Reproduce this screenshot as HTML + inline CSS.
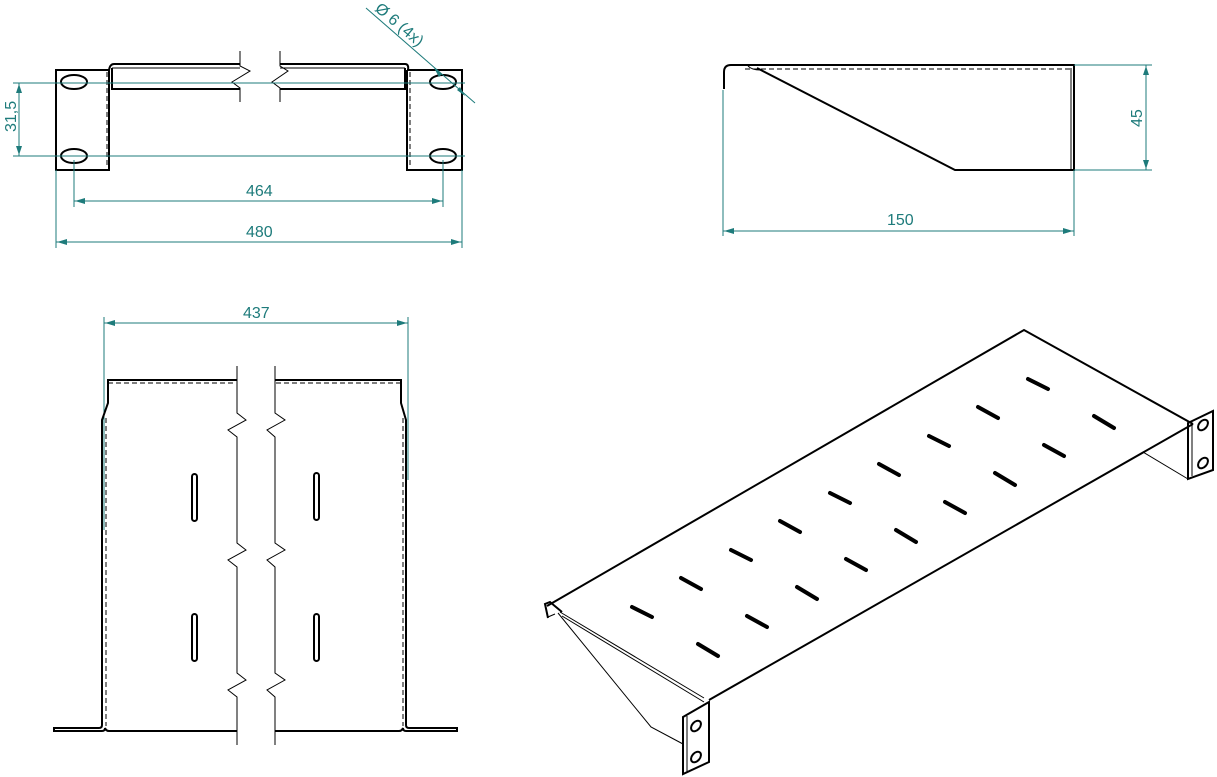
<!DOCTYPE html>
<html><head><meta charset="utf-8"><style>
html,body{margin:0;padding:0;background:#fff;width:1217px;height:777px;overflow:hidden}
svg{display:block}
text{font-family:"Liberation Sans","DejaVu Sans",sans-serif;fill:#1e7b7b;font-size:16px}
.k{stroke:#000;fill:none;stroke-width:2}
.t{stroke:#000;fill:none;stroke-width:1}
.d{stroke:#000;fill:none;stroke-width:1;stroke-dasharray:5,3}
.g{stroke:#1e7b7b;fill:none;stroke-width:1}
.a{fill:#1e7b7b}
.s{stroke:#000;stroke-width:4;stroke-linecap:round}
</style></head><body>
<svg width="1217" height="777" viewBox="0 0 1217 777" xmlns="http://www.w3.org/2000/svg">
<!-- TOP LEFT VIEW -->
<path class="k" d="M109,70 H56 V170 H109 V70"/>
<path class="k" d="M407,70 H462 V170 H407 V70"/>
<line class="d" x1="107" y1="72" x2="107" y2="168"/>
<line class="d" x1="410" y1="72" x2="410" y2="168"/>
<path class="k" d="M109,70 Q110,64 114,64 H240"/>
<path class="k" d="M112,68 V89 H240"/>
<path class="k" d="M280,64 H405 Q409,64 408,70"/>
<path class="k" d="M280,89 H405 V68"/>
<line class="t" x1="112" y1="68" x2="240" y2="68"/><line class="t" x1="280" y1="68" x2="405" y2="68"/>
<path class="t" d="M240,51 V66 L250,71 L232,82 L240,88 V102"/>
<path class="t" d="M280,51 V66 L288,71 L272,82 L280,88 V102"/>
<ellipse class="k" cx="74" cy="82" rx="13" ry="7"/><ellipse class="k" cx="74" cy="156" rx="13" ry="7"/>
<ellipse class="k" cx="443" cy="82" rx="13" ry="7"/><ellipse class="k" cx="443" cy="156" rx="13" ry="7"/>
<line class="g" x1="13" y1="83" x2="465" y2="83"/>
<line class="g" x1="13" y1="156" x2="465" y2="156"/>
<line class="g" x1="19" y1="83" x2="19" y2="156"/>
<path class="a" d="M19,84 l-3,9 h6z M19,155 l-3,-9 h6z"/>
<text transform="translate(16,132) rotate(-90)">31,5</text>
<line class="g" x1="74" y1="160" x2="74" y2="207"/><line class="g" x1="443" y1="160" x2="443" y2="207"/>
<line class="g" x1="74" y1="201" x2="443" y2="201"/>
<path class="a" d="M75,201 l10,-3 v6z M442,201 l-10,-3 v6z"/>
<text x="246" y="196">464</text>
<line class="g" x1="56" y1="170" x2="56" y2="248"/><line class="g" x1="462" y1="170" x2="462" y2="248"/>
<line class="g" x1="56" y1="242" x2="462" y2="242"/>
<path class="a" d="M57,242 l10,-3 v6z M461,242 l-10,-3 v6z"/>
<text x="246" y="237">480</text>
<line class="g" x1="366" y1="8" x2="475" y2="103"/>
<path class="a" d="M434,68 l8,6 l-3,3z M465,96 l-8,-6 l3,-3z"/>
<text transform="translate(374,10) rotate(40)">Ø 6 (4x)</text>

<!-- TOP RIGHT VIEW -->
<path class="k" d="M724,89 V72 Q724,65 731,65 H1074 V170 H955 L757,68"/>
<line class="t" x1="1071" y1="68" x2="1071" y2="170"/>
<line class="d" x1="745" y1="69" x2="1070" y2="69"/>
<path class="t" d="M748,66 Q752,70 760,70"/>
<line class="g" x1="1074" y1="65" x2="1152" y2="65"/><line class="g" x1="1074" y1="170" x2="1152" y2="170"/>
<line class="g" x1="1146" y1="65" x2="1146" y2="170"/>
<path class="a" d="M1146,66 l-3,9 h6z M1146,169 l-3,-9 h6z"/>
<text transform="translate(1142,127) rotate(-90)">45</text>
<line class="g" x1="723" y1="90" x2="723" y2="236"/><line class="g" x1="1074" y1="170" x2="1074" y2="236"/>
<line class="g" x1="723" y1="231" x2="1074" y2="231"/>
<path class="a" d="M724,231 l10,-3 v6z M1073,231 l-10,-3 v6z"/>
<text x="887" y="225">150</text>

<!-- BOTTOM LEFT VIEW -->
<line class="g" x1="104" y1="317" x2="104" y2="530"/><line class="g" x1="408" y1="317" x2="408" y2="480"/>
<line class="g" x1="104" y1="323" x2="408" y2="323"/>
<path class="a" d="M105,323 l10,-3 v6z M407,323 l-10,-3 v6z"/>
<text x="243" y="318">437</text>
<path class="k" d="M237,380 H108 V403 L102,420 V725 Q102,728 99,728 H54 V731 H102 Q105,731 105,728 Q106,731 109,731 H237"/>
<path class="k" d="M275,380 H401 V403 L406,420 V725 Q406,728 409,728 H457 V731 H406 Q403,731 403,728 Q402,731 399,731 H275"/>
<line class="d" x1="108" y1="383" x2="236" y2="383"/><line class="d" x1="276" y1="383" x2="400" y2="383"/>
<line class="d" x1="106" y1="418" x2="106" y2="726"/><line class="d" x1="403" y1="418" x2="403" y2="726"/>
<path class="t" d="M237,366 V413 L246,420 L228,430 L237,437 V543 L246,550 L228,560 L237,567 V673 L246,680 L228,690 L237,697 V745"/>
<path class="t" d="M275,366 V413 L285,420 L267,430 L275,437 V543 L285,550 L267,560 L275,567 V673 L285,680 L267,690 L275,697 V745"/>
<rect class="k" x="192" y="474" width="5" height="47" rx="2.5"/><rect class="k" x="314" y="473" width="5" height="47" rx="2.5"/>
<rect class="k" x="192" y="614" width="5" height="47" rx="2.5"/><rect class="k" x="314" y="614" width="5" height="47" rx="2.5"/>

<!-- ISOMETRIC -->
<path class="k" d="M547,606 L1024,330 L1193,424"/>
<path class="k" d="M709,700 L1193,424"/>
<path class="k" d="M548,618 L545,604 L550,602 L562,612"/>
<path class="t" d="M558,613 L651,727 L683,744"/>
<path class="t" d="M560,612 L704,698 M562,616 L704,702 M548,617 L555,614"/>
<path class="k" d="M683,717 L709,702 V762 L683,774 Z"/>
<line class="t" x1="687" y1="716" x2="687" y2="772"/>
<ellipse class="k" cx="696" cy="726" rx="4" ry="6" transform="rotate(40 696 726)"/>
<ellipse class="k" cx="696" cy="757" rx="4" ry="6" transform="rotate(40 696 757)"/>
<path class="k" d="M1188,423 L1213,411 V470 L1188,479 Z"/>
<line class="t" x1="1192" y1="425" x2="1192" y2="476"/>
<path class="t" d="M1143,452 L1188,479"/>
<ellipse class="k" cx="1203" cy="425" rx="4" ry="6" transform="rotate(40 1203 425)"/>
<ellipse class="k" cx="1203" cy="463" rx="4" ry="6" transform="rotate(40 1203 463)"/>
<g class="s">
<line x1="1028" y1="379" x2="1048" y2="389"/>
<line x1="978" y1="407" x2="998" y2="418"/>
<line x1="929" y1="436" x2="949" y2="446"/>
<line x1="879" y1="464" x2="899" y2="475"/>
<line x1="830" y1="493" x2="850" y2="503"/>
<line x1="780" y1="521" x2="800" y2="532"/>
<line x1="731" y1="550" x2="751" y2="560"/>
<line x1="681" y1="578" x2="701" y2="589"/>
<line x1="632" y1="607" x2="652" y2="617"/>
<line x1="1094" y1="416" x2="1114" y2="428"/>
<line x1="1044" y1="445" x2="1064" y2="456"/>
<line x1="995" y1="473" x2="1015" y2="485"/>
<line x1="945" y1="502" x2="965" y2="513"/>
<line x1="896" y1="530" x2="916" y2="542"/>
<line x1="846" y1="559" x2="866" y2="570"/>
<line x1="797" y1="587" x2="817" y2="599"/>
<line x1="747" y1="616" x2="767" y2="627"/>
<line x1="698" y1="644" x2="718" y2="656"/>
</g>
</svg>
</body></html>
